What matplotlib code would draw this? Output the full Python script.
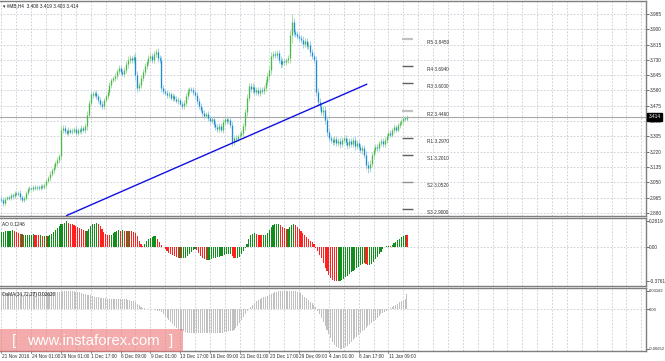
import matplotlib
matplotlib.use('Agg')
import matplotlib.pyplot as plt
from matplotlib.patches import Rectangle
import numpy as np

plt.rcParams['font.family'] = ['Liberation Sans', 'DejaVu Sans']

# ---------------- data ----------------
closes = [
    2.952, 2.935, 2.957, 2.968, 2.963, 2.979, 2.974, 2.990, 2.985, 2.990,
    2.968, 2.952, 2.963, 2.990, 3.013, 3.018, 3.013, 3.024, 3.018, 3.024,
    3.018, 3.029, 3.024, 3.035, 3.057, 3.074, 3.096, 3.118, 3.135, 3.157,
    3.174, 3.196, 3.341, 3.352, 3.335, 3.324, 3.341, 3.330, 3.335, 3.346,
    3.324, 3.341, 3.335, 3.352, 3.341, 3.363, 3.424, 3.490, 3.541, 3.535,
    3.546, 3.529, 3.507, 3.485, 3.474, 3.507, 3.529, 3.552, 3.590, 3.618,
    3.629, 3.640, 3.668, 3.685, 3.663, 3.652, 3.674, 3.707, 3.729, 3.740,
    3.729, 3.746, 3.646, 3.574, 3.590, 3.629, 3.663, 3.696, 3.718, 3.740,
    3.752, 3.729, 3.763, 3.774, 3.740, 3.729, 3.574, 3.557, 3.546, 3.535,
    3.541, 3.518, 3.529, 3.513, 3.502, 3.507, 3.485, 3.474, 3.490, 3.529,
    3.557, 3.568, 3.563, 3.552, 3.535, 3.502, 3.474, 3.452, 3.435, 3.418,
    3.429, 3.407, 3.390, 3.401, 3.374, 3.357, 3.346, 3.363, 3.341, 3.385,
    3.401, 3.390, 3.396, 3.368, 3.274, 3.296, 3.291, 3.307, 3.313, 3.324,
    3.363, 3.440, 3.518, 3.585, 3.568, 3.579, 3.552, 3.563, 3.546, 3.563,
    3.557, 3.574, 3.607, 3.640, 3.674, 3.752, 3.763, 3.757, 3.768, 3.729,
    3.707, 3.724, 3.718, 3.729, 3.740, 3.868, 3.941, 3.885, 3.874, 3.863,
    3.852, 3.841, 3.818, 3.835, 3.807, 3.813, 3.774, 3.752, 3.729, 3.552,
    3.496, 3.474, 3.440, 3.452, 3.396, 3.330, 3.296, 3.285, 3.274, 3.291,
    3.268, 3.279, 3.263, 3.285, 3.296, 3.274, 3.257, 3.279, 3.263, 3.285,
    3.252, 3.268, 3.246, 3.229, 3.240, 3.202, 3.146, 3.129, 3.152, 3.202,
    3.229, 3.246, 3.240, 3.268, 3.279, 3.263, 3.285, 3.307, 3.324, 3.313,
    3.341, 3.357, 3.341, 3.368, 3.379, 3.390, 3.407, 3.401, 3.414,
]
first_open = 2.960

wick = [
    .012, .015, .010, .008, .012, .010, .014, .009, .012, .010, .016, .012, .010, .014, .012, .010, .008, .012, .010, .009,
    .010, .012, .009, .011, .014, .012, .016, .012, .014, .012, .016, .014, .020, .018, .016, .012, .015, .012, .014, .010,
    .016, .012, .010, .014, .012, .018, .020, .018, .016, .014, .012, .016, .014, .018, .016, .014, .012, .016, .018, .014,
    .012, .016, .014, .018, .016, .014, .016, .018, .020, .016, .014, .018, .025, .020, .018, .016, .014, .016, .014, .018,
    .016, .014, .018, .016, .020, .016, .020, .014, .012, .016, .014, .012, .016, .012, .014, .016, .012, .014, .016, .018,
    .016, .014, .012, .016, .014, .016, .018, .014, .016, .014, .012, .016, .014, .012, .016, .014, .018, .016, .014, .016,
    .014, .016, .012, .016, .022, .018, .016, .014, .016, .014, .018, .020, .022, .018, .016, .020, .018, .016, .014, .016,
    .014, .016, .018, .016, .020, .022, .018, .016, .018, .016, .020, .018, .016, .014, .016, .030, .045, .022, .018, .016,
    .018, .016, .020, .018, .016, .018, .020, .016, .018, .025, .022, .020, .018, .020, .022, .020, .018, .016, .018, .016,
    .018, .016, .020, .018, .016, .018, .020, .016, .018, .016, .020, .018, .016, .018, .020, .018, .022, .025, .020, .018,
    .016, .018, .016, .014, .016, .018, .016, .014, .016, .014, .012, .016, .014, .012, .014, .012, .014, .010, .008,
]

ao = [
    0.16, 0.16, 0.17, 0.17, 0.17, 0.17, 0.18, 0.17, 0.16, 0.15,
    0.14, 0.14, 0.13, 0.13, 0.13, 0.13, 0.13, 0.135, 0.13, 0.125,
    0.12, 0.12, 0.115, 0.115, 0.11, 0.11, 0.12, 0.14, 0.16, 0.18,
    0.20, 0.22, 0.24, 0.25, 0.26, 0.2819, 0.26, 0.25, 0.24, 0.23,
    0.22, 0.21, 0.20, 0.19, 0.18, 0.17, 0.17, 0.19, 0.22, 0.24,
    0.25, 0.26, 0.25, 0.22, 0.19, 0.16, 0.14, 0.13, 0.12, 0.13,
    0.15, 0.16, 0.17, 0.18, 0.17, 0.175, 0.17, 0.17, 0.165, 0.17,
    0.165, 0.16, 0.15, 0.11, 0.06, 0.03, 0.01, 0.03, 0.06, 0.08,
    0.09, 0.10, 0.11, 0.11, 0.08, 0.05, 0.02, -0.01, -0.03, -0.05,
    -0.07, -0.08, -0.09, -0.10, -0.11, -0.12, -0.12, -0.13, -0.13, -0.12,
    -0.10, -0.08, -0.06, -0.04, -0.03, -0.04, -0.07, -0.10, -0.12, -0.14,
    -0.15, -0.15, -0.145, -0.14, -0.13, -0.12, -0.115, -0.11, -0.10, -0.10,
    -0.09, -0.085, -0.08, -0.08, -0.10, -0.12, -0.13, -0.13, -0.11, -0.08,
    -0.05, -0.02, 0.03, 0.08, 0.12, 0.14, 0.15, 0.14, 0.13, 0.125,
    0.12, 0.125, 0.13, 0.15, 0.18, 0.21, 0.23, 0.24, 0.25, 0.25,
    0.23, 0.21, 0.20, 0.19, 0.19, 0.21, 0.23, 0.24, 0.23, 0.21,
    0.19, 0.17, 0.15, 0.13, 0.10, 0.08, 0.06, 0.05, 0.03, -0.02,
    -0.05, -0.09, -0.13, -0.18, -0.23, -0.27, -0.31, -0.34, -0.36, -0.37,
    -0.3761, -0.375, -0.37, -0.36, -0.35, -0.33, -0.32, -0.30, -0.28, -0.27,
    -0.25, -0.23, -0.22, -0.20, -0.19, -0.18, -0.19, -0.20, -0.20, -0.19,
    -0.17, -0.14, -0.11, -0.08, -0.06, -0.03, -0.01, 0.005, 0.01, 0.008,
    0.02, 0.04, 0.05, 0.07, 0.08, 0.10, 0.11, 0.125, 0.1246,
]

osma = [
    0.029, 0.029, 0.028, 0.028, 0.027, 0.026,
    0.025, 0.025, 0.024, 0.024, 0.024, 0.025, 0.025, 0.026, 0.027, 0.028,
    0.029, 0.029, 0.029, 0.030, 0.030, 0.029, 0.029, 0.028, 0.028, 0.028, 0.028,
    0.029, 0.029, 0.029, 0.030, 0.030, 0.030, 0.031, 0.031, 0.0318, 0.0318, 0.031, 0.031, 0.031, 0.030,
    0.030, 0.029, 0.028, 0.027, 0.026, 0.025, 0.025, 0.024, 0.023, 0.022, 0.022, 0.021, 0.020, 0.020, 0.019, 0.019, 0.018, 0.018,
    0.018, 0.018, 0.018, 0.018, 0.017, 0.017, 0.017, 0.017, 0.017, 0.016, 0.016, 0.015, 0.014,
    0.012, 0.010, 0.007, 0.005, 0.003,
    0.002, 0.001, 0.001, 0.000, 0.000, -0.001, -0.001, -0.002, -0.003,
    -0.005, -0.008, -0.011, -0.015, -0.018, -0.022, -0.025, -0.028, -0.031, -0.033, -0.035,
    -0.036, -0.037, -0.038, -0.039, -0.039, -0.039, -0.039, -0.039, -0.039,
    -0.039, -0.039, -0.040, -0.040, -0.040, -0.040, -0.040, -0.040, -0.040, -0.040,
    -0.040, -0.039, -0.039, -0.039, -0.038, -0.038, -0.037, -0.037, -0.036, -0.035,
    -0.032, -0.028, -0.023, -0.018, -0.013, -0.008, -0.003,
    0.001, 0.005, 0.008, 0.011, 0.014, 0.016, 0.018, 0.020, 0.021, 0.022, 0.023,
    0.025, 0.027, 0.028, 0.029, 0.030, 0.031, 0.031, 0.0318, 0.0318, 0.0318, 0.0318, 0.0318,
    0.0318, 0.031, 0.031, 0.030, 0.029, 0.028,
    0.025, 0.022, 0.019, 0.016, 0.013, 0.011, 0.008,
    0.004, -0.002, -0.008, -0.014, -0.021, -0.028, -0.035, -0.042, -0.049,
    -0.055, -0.060, -0.063, -0.065, -0.0665, -0.0665, -0.065, -0.063, -0.061,
    -0.058, -0.055, -0.052, -0.049, -0.046, -0.043, -0.040, -0.037, -0.034,
    -0.031, -0.028, -0.026, -0.023, -0.020, -0.017, -0.014, -0.011, -0.008, -0.006, -0.004, -0.002, 0.000,
    0.002, 0.004, 0.006, 0.008, 0.010, 0.012, 0.014, 0.016, 0.018, 0.0262,
]

date_labels = ["21 Nov 2016", "24 Nov 01:00", "29 Nov 01:00", "1 Dec 17:00", "6 Dec 09:00",
               "9 Dec 01:00", "13 Dec 17:00", "16 Dec 09:00", "21 Dec 01:00", "23 Dec 17:00",
               "29 Dec 09:00", "4 Jan 01:00", "6 Jan 17:00", "11 Jan 09:00"]
price_ticks = [3.985, 3.900, 3.815, 3.730, 3.645, 3.560, 3.475, 3.390, 3.305, 3.220,
               3.135, 3.050, 2.965, 2.880]
pivot_names = ["R5", "R4", "R3", "R2", "R1", "S1", "S2", "S3"]
pivot_values = [3.8450, 3.6940, 3.6000, 3.4460, 3.2970, 3.2010, 3.0520, 2.9000]
pivot_colors = ["#c0c0c0", "#606060", "#606060", "#c0c0c0", "#606060", "#606060", "#909090", "#606060"]
trend_bars = [35.05, 196.3]
trend_prices = [2.8656, 3.5944]
last_price = 3.414

n = len(closes)
assert len(wick) == n and len(ao) == n and len(osma) == n

# ---------------- figure ----------------
W, H = 665, 361
fig = plt.figure(figsize=(W / 100, H / 100), dpi=100)
fig.patch.set_facecolor('white')


def rect(x0, y0, x1, y1):
    return [x0 / W, 1 - y1 / H, (x1 - x0) / W, (y1 - y0) / H]


ax = fig.add_axes(rect(0, 1, 646, 216))
ao_ax = fig.add_axes(rect(0, 218, 646, 286))
os_ax = fig.add_axes(rect(0, 288, 646, 351))

px_per_bar = 1.86
x_first = 1.5
xlim = (-x_first / px_per_bar, (646 - x_first) / px_per_bar)
grid_col = '#c4cad4'
frame_col = '#7f7f7f'
fs = 3.4
txt_col = '#303030'

for a in (ax, ao_ax, os_ax):
    a.set_xlim(*xlim)
    a.set_facecolor('white')
    a.spines['left'].set_visible(False)
    for s in ('top', 'bottom', 'right'):
        a.spines[s].set_color(frame_col)
        a.spines[s].set_linewidth(1.0)
    a.set_xticks([])
    a.yaxis.tick_right()
    a.tick_params(axis='y', length=1.8, width=0.5, colors=txt_col, labelsize=fs, pad=0.6)
    for k in range(0, 45):
        a.axvline(k * 8, color=grid_col, lw=0.6, ls=(0, (2, 2)), zorder=0)

# ---- main price panel ----
ymin, ymax = 2.8628, 4.0572
ax.set_ylim(ymin, ymax)
ax.set_yticks(price_ticks)
ax.set_yticklabels([f"{v:.3f}" for v in price_ticks])
for v in price_ticks:
    ax.axhline(v, color=grid_col, lw=0.6, ls=(0, (2, 2)), zorder=0)

idx = np.arange(n)
closes_a = np.array(closes)
opens_a = np.concatenate([[first_open], closes_a[:-1]])
wick_a = np.array(wick)
highs = np.maximum(opens_a, closes_a) + wick_a
lows = np.minimum(opens_a, closes_a) - wick_a
bull = closes_a >= opens_a

ax.axhline(last_price, color='#a8a8a8', lw=0.8, zorder=1)

ax.vlines(idx[bull], lows[bull], highs[bull], color='#a8dca8', lw=0.7, zorder=2)
ax.vlines(idx[~bull], lows[~bull], highs[~bull], color='#9fd0ee', lw=0.7, zorder=2)
body_lo = np.minimum(opens_a, closes_a)
body_hi = np.maximum(opens_a, closes_a)
body_hi = np.where(body_hi - body_lo < 0.003, body_lo + 0.003, body_hi)
ax.vlines(idx[bull], body_lo[bull], body_hi[bull], color='#4cb84c', lw=0.95, zorder=3)
ax.vlines(idx[~bull], body_lo[~bull], body_hi[~bull], color='#1f8ad0', lw=0.95, zorder=3)

ax.plot(trend_bars, trend_prices, color='#1010e0', lw=1.0, zorder=4)

pv_x0 = (402 - x_first) / px_per_bar
pv_x1 = (413 - x_first) / px_per_bar
pv_tx = (427 - x_first) / px_per_bar
for name, val, col in zip(pivot_names, pivot_values, pivot_colors):
    ax.plot([pv_x0, pv_x1], [val, val], color=col, lw=1.0 if col != '#c0c0c0' else 1.6, zorder=4,
            solid_capstyle='butt')
    ax.text(pv_tx, val - 0.004, f"{name} {val:.4f}", fontsize=fs, color=txt_col, va='top', ha='left')

# current price box
ax.text(1.004, (last_price - ymin) / (ymax - ymin), f"{last_price:.3f}", transform=ax.transAxes,
        fontsize=fs, color='white', va='center', ha='left',
        bbox=dict(boxstyle='square,pad=0.3', fc='black', ec='black'), zorder=10, clip_on=False)

fig.text(3 / W, 1 - 5.5 / H, "\u25BE #MB,H4  3.408 3.419 3.403 3.414", fontsize=fs, color='#202020',
         va='center', ha='left')

# ---- AO panel ----
ao_a = np.array(ao)
ao_up = np.concatenate([[True], np.diff(ao_a) >= 0])
ao_ax.set_ylim(-0.429, 0.31)
ao_ax.bar(idx[ao_up], ao_a[ao_up], width=0.62, color='#10901a', zorder=3)
ao_ax.bar(idx[~ao_up], ao_a[~ao_up], width=0.62, color='#ff2020', zorder=3)
ao_ax.axhline(0, color=grid_col, lw=0.6, ls=(0, (2, 2)), zorder=0)
ao_ax.set_yticks([0.2819, 0.0, -0.3761])
ao_ax.set_yticklabels(["0.2819", "0.00", "-0.3761"])
ao_ax.text(2 / 646, 0.94, f"AO {ao[-1]:.4f}", transform=ao_ax.transAxes, fontsize=fs, color='#202020',
           va='top', ha='left')

# ---- OsMA panel ----
os_a = np.array(osma)
os_lo, os_hi = -0.0703, 0.0364
os_ax.set_ylim(os_lo, os_hi)
os_ax.bar(idx, os_a, width=0.55, color='#c0c0c0', zorder=3)
os_ax.axhline(0, color=grid_col, lw=0.6, ls=(0, (2, 2)), zorder=0)
os_ax.set_yticks([0.03182, 0.0, -0.06652])
os_ax.set_yticklabels(["0.03182", "0.00", "-0.06652"])
os_ax.tick_params(axis='y', labelsize=3.0, pad=0.4)
os_ax.text(2 / 646, 0.94, f"OsMA(34,72,27) {osma[-1]:.5f}", transform=os_ax.transAxes, fontsize=fs,
           color='#202020', va='top', ha='left')

# date labels along the bottom
for k, lab in enumerate(date_labels):
    b = k * 16
    os_ax.text(b + 0.2, os_lo - 0.0045, lab, fontsize=fs, color=txt_col, va='top', ha='left',
               clip_on=False)
    os_ax.plot([b, b], [os_lo, os_lo - 0.0035], color='#606060', lw=0.5, clip_on=False)

# watermark
fig.patches.append(Rectangle((0, 1 - 352 / H), 183 / W, 23 / H, transform=fig.transFigure,
                             fc=(0.92, 0.45, 0.45, 0.6), ec='none', zorder=20))
wm_y = 1 - 341 / H
fig.text(12 / W, wm_y, "[", fontsize=11, color='white', ha='left', va='center', zorder=21)
fig.text(93 / W, wm_y, "www.instaforex.com", fontsize=10.7, color='white', ha='center', va='center', zorder=21)
fig.text(173 / W, wm_y, "]", fontsize=11, color='white', ha='right', va='center', zorder=21)

fig.savefig('out.png', dpi=100, facecolor='white')
